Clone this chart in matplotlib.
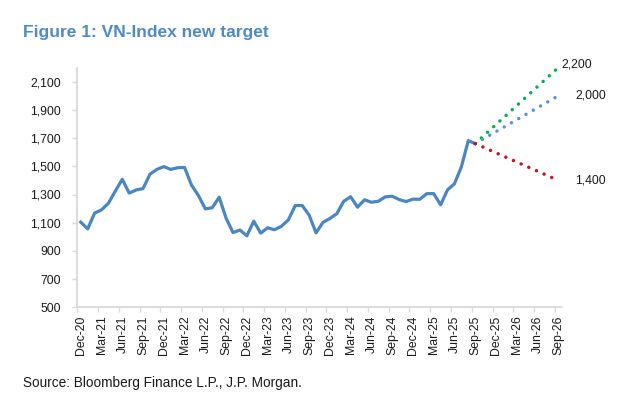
import matplotlib
matplotlib.use("Agg")
import matplotlib.pyplot as plt
import pandas as pd

# ---------------- data ----------------
months = pd.date_range("2020-12-01", "2026-09-01", freq="MS")
month_labels = [d.strftime("%b-%y") for d in months]

vnindex = [1104, 1056, 1168, 1191, 1238, 1325, 1408, 1310, 1332, 1342, 1444, 1478,
           1498, 1478, 1490, 1492, 1367, 1293, 1198, 1206, 1281, 1132, 1030, 1048,
           1007, 1111, 1026, 1064, 1050, 1075, 1120, 1222, 1222, 1154, 1028, 1102,
           1130, 1164, 1252, 1284, 1210, 1262, 1245, 1252, 1283, 1288, 1264, 1250,
           1267, 1266, 1306, 1306, 1227, 1333, 1376, 1496, 1682, 1661]

proj_months = ["Sep-25", "Sep-26"]
bull_case = [1661, 2200]
base_case = [1661, 2000]
bear_case = [1661, 1400]
target_labels = ["2,200", "2,000", "1,400"]

y_ticks = [500, 700, 900, 1100, 1300, 1500, 1700, 1900, 2100]

# ---------------- style ----------------
plt.rcParams["font.family"] = ["Liberation Sans", "DejaVu Sans"]

W, H = 633, 398
fig = plt.figure(figsize=(W / 100, H / 100), dpi=100)
fig.patch.set_facecolor("white")

ax_l, ax_r, ax_b, ax_t = 77.3, 561.7, 307.3, 67.6
ax = fig.add_axes([ax_l / W, 1 - ax_b / H, (ax_r - ax_l) / W, (ax_b - ax_t) / H])

x_hist = list(range(len(vnindex)))
ax.plot(x_hist, vnindex, color="#4A86C0", lw=2.3, solid_joinstyle="round", zorder=3)

px = [month_labels.index(m) for m in proj_months]
dot = (0, (0.01, 2.4))
ax.plot(px, bull_case, color="#00B050", lw=2.5, linestyle=dot, dash_capstyle="round", zorder=2)
ax.plot(px, base_case, color="#5B93CE", lw=2.5, linestyle=dot, dash_capstyle="round", zorder=2)
ax.plot(px, bear_case, color="#C0141E", lw=2.5, linestyle=dot, dash_capstyle="round", zorder=4)

lab_style = dict(fontsize=8.8, color="#1a1a1a", clip_on=False, va="center", ha="left")
ax.text(69.5, 2225, target_labels[0], **lab_style)
ax.text(71.5, base_case[1], target_labels[1], **lab_style)
ax.text(71.5, bear_case[1], target_labels[2], **lab_style)

ax.set_xlim(-0.5, len(month_labels) - 0.5)
ax.set_ylim(500, 2200)

ax.set_yticks(y_ticks)
ax.set_yticklabels([f"{v:,}" for v in y_ticks])

lab_idx = list(range(0, len(month_labels), 3))
ax.set_xticks(lab_idx)
ax.set_xticklabels([month_labels[i] for i in lab_idx], rotation=90)
ax.set_xticks([i - 0.5 for i in range(0, len(month_labels) + 1, 3)], minor=True)

for s in ["top", "right"]:
    ax.spines[s].set_visible(False)
for s in ["left", "bottom"]:
    ax.spines[s].set_color("#D9D9D9")
    ax.spines[s].set_linewidth(1.3)

ax.tick_params(axis="y", which="major", length=3.6, width=1, color="#D9D9D9",
               labelsize=8.8, labelcolor="#1a1a1a", pad=8.4)
ax.tick_params(axis="x", which="major", length=0, labelsize=8.8, labelcolor="#1a1a1a", pad=6)
ax.tick_params(axis="x", which="minor", length=3.6, width=1, color="#D9D9D9")

fig.text(23 / W, 1 - 36.7 / H, "Figure 1: VN-Index new target", fontsize=12.5,
         fontweight="bold", color="#4F8AC6", va="baseline", ha="left")
fig.text(23.3 / W, 1 - 386.7 / H, "Source: Bloomberg Finance L.P., J.P. Morgan.",
         fontsize=9.8, color="#1a1a1a", va="baseline", ha="left")

fig.savefig("out.png", dpi=100)
